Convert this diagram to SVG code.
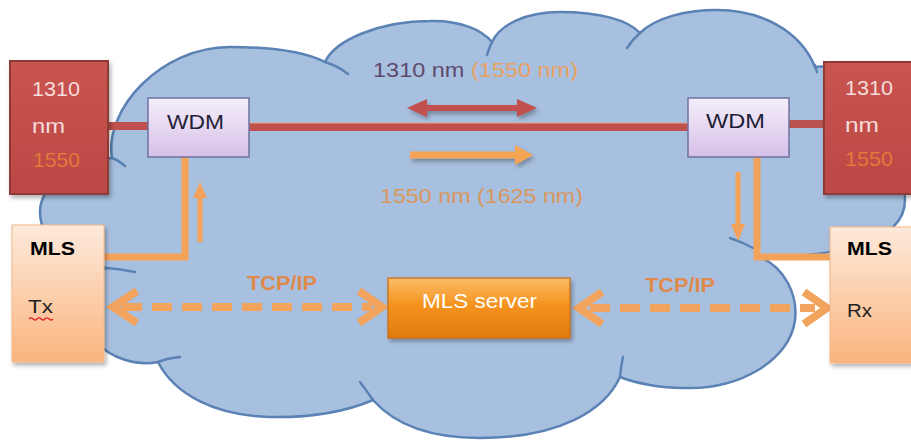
<svg xmlns="http://www.w3.org/2000/svg" width="911" height="441" viewBox="0 0 911 441">
<defs>
<style>
.t{font-family:"Liberation Sans",Arial,sans-serif}
.cusp{fill:none;stroke:#5b82b4;stroke-width:2.5;stroke-linecap:round}
.org{fill:none;stroke:#f3a25a;stroke-width:7}
.dash{fill:none;stroke:#f2a35e;stroke-width:8;stroke-dasharray:20 10}
.chev{fill:none;stroke:#f2a35e;stroke-width:8;stroke-linejoin:miter}
.redbox{fill:url(#redG);stroke:#8e3a37;stroke-width:2}
.wdm{fill:url(#wdmG);stroke:#6f72a0;stroke-width:1.5}
.peach{fill:url(#peachG);stroke:#f4b888;stroke-width:1}
</style>
<linearGradient id="redG" x1="0" y1="0" x2="0" y2="1"><stop offset="0" stop-color="#c95450"/><stop offset="1" stop-color="#bb4845"/></linearGradient>
<linearGradient id="wdmG" x1="0" y1="0" x2="0" y2="1"><stop offset="0" stop-color="#f5eefb"/><stop offset="1" stop-color="#d6c0e8"/></linearGradient>
<linearGradient id="peachG" x1="0" y1="0" x2="0" y2="1"><stop offset="0" stop-color="#fdeadb"/><stop offset="1" stop-color="#fab47e"/></linearGradient>
<linearGradient id="serverG" x1="0" y1="0" x2="0" y2="1"><stop offset="0" stop-color="#fbbc68"/><stop offset="0.45" stop-color="#f5931f"/><stop offset="1" stop-color="#e07a0f"/></linearGradient>
<filter id="sh" x="-10%" y="-10%" width="130%" height="130%"><feDropShadow dx="2" dy="3" stdDeviation="2" flood-color="#000" flood-opacity="0.3"/></filter>
</defs>

<g id="cloud">
<path d="M 112,158 C 104,110 160,47 230,47 C 270,47 305,52 325,62 C 335,40 380,21 430,21 C 460,20 482,30 492,42 C 500,25 525,12 560,12 C 600,12 628,20 640,33 C 655,18 685,10 717,10 C 760,10 800,30 815,67 C 850,60 905,120 905,200 C 905,245 830,257 760,257 C 785,268 798,295 795,320 C 790,360 740,390 683,388 C 660,388 635,383 620,377 C 605,410 560,438 480,438 C 430,438 395,425 373,400 C 345,412 310,418 268,417 C 215,415 175,395 158,362 C 140,366 110,360 95,340 C 80,310 85,275 107,268 C 70,265 40,240 40,212 C 40,185 75,160 112,158 Z" fill="#a8c0df" stroke="#5b82b4" stroke-width="2.5"/>
<path class="cusp" d="M 112,158 Q 118,160 125,166"/>
<path class="cusp" d="M 325,62 Q 338,66 348,74"/>
<path class="cusp" d="M 492,42 Q 489,48 487,55"/>
<path class="cusp" d="M 640,33 Q 632,40 627,48"/>
<path class="cusp" d="M 815,65 Q 816,69 817,72"/>
<path class="cusp" d="M 730,238 Q 742,242 753,248"/>
<path class="cusp" d="M 620,377 Q 621,366 623,357"/>
<path class="cusp" d="M 373,400 Q 366,390 360,382"/>
<path class="cusp" d="M 158,362 Q 168,358 180,357"/>
<path class="cusp" d="M 107,268 Q 120,269 135,272"/>
</g>

<g id="connectors">
<line x1="108" y1="126" x2="148" y2="126" stroke="#c0504d" stroke-width="8"/>
<line x1="249" y1="127" x2="688" y2="127" stroke="#c0504d" stroke-width="8"/>
<line x1="249" y1="123" x2="688" y2="123" stroke="#e5a58a" stroke-width="1"/>
<line x1="789" y1="124" x2="824" y2="124" stroke="#b8534f" stroke-width="8"/>
<path class="org" d="M 185,157 V 257 H 104"/>
<path class="org" d="M 757,157 V 257 H 830"/>
<polygon points="197.5,242 197.5,198 193,198 200,182 207,198 202.5,198 202.5,242" fill="#f3a25a"/>
<polygon points="735.5,172 740.5,172 740.5,224 745,224 738,241 731,224 735.5,224" fill="#f3a25a"/>
<polygon points="407,108 427,99 427,105 517,105 517,99 537,108 517,117 517,111 427,111 427,117" fill="#c0504d" filter="url(#sh)"/>
<polygon points="410,151.5 515,151.5 515,145 533,155 515,165 515,158.5 410,158.5" fill="#f5a456" filter="url(#sh)"/>
<line class="dash" x1="122" y1="307" x2="372" y2="307"/>
<polyline class="chev" points="137,291 113,307 137,323"/>
<polyline class="chev" points="359,291 382,307 359,323"/>
<line class="dash" x1="590" y1="308" x2="815" y2="308"/>
<polyline class="chev" points="602,292 579,308 602,324"/>
<polyline class="chev" points="804,292 827,308 804,324"/>
</g>

<g id="laser-left">
<rect class="redbox" x="10" y="61" width="98" height="133" filter="url(#sh)"/>
<text class="t" x="32" y="96" font-size="21" fill="#f6dcdc" textLength="48" lengthAdjust="spacingAndGlyphs">1310</text>
<text class="t" x="32" y="133" font-size="21" fill="#f6dcdc" textLength="33" lengthAdjust="spacingAndGlyphs">nm</text>
<text class="t" x="33" y="167" font-size="21" fill="#e0793a" textLength="47" lengthAdjust="spacingAndGlyphs">1550</text>
</g>

<g id="laser-right">
<rect class="redbox" x="824" y="62" width="92" height="132" filter="url(#sh)"/>
<text class="t" x="845" y="95" font-size="21" fill="#f6dcdc" textLength="48" lengthAdjust="spacingAndGlyphs">1310</text>
<text class="t" x="845" y="132" font-size="21" fill="#f6dcdc" textLength="34" lengthAdjust="spacingAndGlyphs">nm</text>
<text class="t" x="845" y="166" font-size="21" fill="#e0793a" textLength="48" lengthAdjust="spacingAndGlyphs">1550</text>
</g>

<g id="wdm-left">
<rect class="wdm" x="148" y="98" width="101" height="59"/>
<text class="t" x="167" y="129" font-size="21" fill="#1e1e36" textLength="57" lengthAdjust="spacingAndGlyphs">WDM</text>
</g>

<g id="wdm-right">
<rect class="wdm" x="688" y="98" width="101" height="59"/>
<text class="t" x="706" y="128" font-size="21" fill="#1e1e36" textLength="59" lengthAdjust="spacingAndGlyphs">WDM</text>
</g>

<g id="mls-tx">
<rect class="peach" x="12" y="225" width="92" height="137" filter="url(#sh)"/>
<text class="t" x="30" y="255" font-size="19" font-weight="bold" fill="#000" textLength="45" lengthAdjust="spacingAndGlyphs">MLS</text>
<text class="t" x="28" y="313" font-size="19" fill="#222" textLength="25" lengthAdjust="spacingAndGlyphs">Tx</text>
<path d="M 29,319 q 2,-2 4,0 t 4,0 t 4,0 t 4,0 t 4,0 t 4,0" fill="none" stroke="#e0202a" stroke-width="1.2"/>
</g>

<g id="mls-rx">
<rect class="peach" x="830" y="227" width="86" height="136" filter="url(#sh)"/>
<text class="t" x="847" y="255" font-size="19" font-weight="bold" fill="#000" textLength="45" lengthAdjust="spacingAndGlyphs">MLS</text>
<text class="t" x="847" y="317" font-size="19" fill="#222" textLength="25" lengthAdjust="spacingAndGlyphs">Rx</text>
</g>

<g id="mls-server">
<rect x="388" y="278" width="182" height="60" fill="url(#serverG)" stroke="#c96c12" stroke-width="1.2" filter="url(#sh)"/>
<text class="t" x="422" y="308" font-size="21" fill="#ffffff" textLength="115" lengthAdjust="spacingAndGlyphs">MLS server</text>
</g>

<g id="labels">
<text class="t" x="373" y="77" font-size="20" textLength="205" lengthAdjust="spacingAndGlyphs"><tspan fill="#5e4a6c">1310 nm </tspan><tspan fill="#e9a162">(1550 nm)</tspan></text>
<text class="t" x="380" y="203" font-size="20" fill="#d9975e" textLength="203" lengthAdjust="spacingAndGlyphs">1550 nm (1625 nm)</text>
<text class="t" x="247" y="290" font-size="20" font-weight="bold" fill="#df8a4c" textLength="70" lengthAdjust="spacingAndGlyphs">TCP/IP</text>
<text class="t" x="645" y="292" font-size="20" font-weight="bold" fill="#df8a4c" textLength="70" lengthAdjust="spacingAndGlyphs">TCP/IP</text>
</g>
</svg>
